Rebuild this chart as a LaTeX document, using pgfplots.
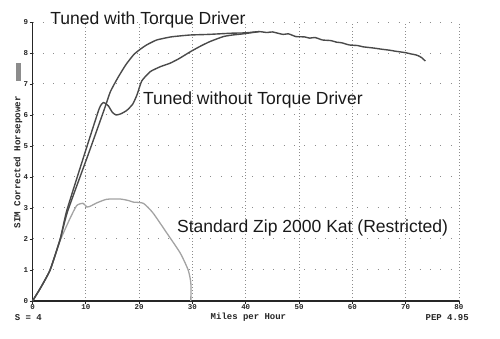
\documentclass[border=0pt]{standalone}
\usepackage{pgfplots}
\pgfplotsset{compat=1.18}
\usepackage{fontspec}
\setmainfont{Liberation Sans}
\setmonofont{Liberation Mono}
\definecolor{dk}{HTML}{4A4A4A}
\definecolor{lt}{HTML}{A3A3A3}
\definecolor{gr}{HTML}{8C8C8C}
\begin{document}
\begin{tikzpicture}[x=1bp,y=1bp]
\begin{axis}[
  scale only axis,
  width=426.5bp, height=279bp,
  xmin=0, xmax=80, ymin=0, ymax=9,
  clip=false,
  axis x line*=bottom, axis y line*=left,
  axis line style={line width=1.4pt, black!85, -},
  xtick={0,10,...,80}, ytick={0,1,...,9},
  tick style={black!85, line width=0.8pt},
  major tick length=3bp,
  tick align=outside,
  xmajorgrids, ymajorgrids,
  major x grid style={gr, line width=0.9pt, dash pattern=on 0.9pt off 2.4pt},
  major y grid style={gr, line width=1pt, dash pattern=on 1pt off 9.5pt},
  tick label style={font=\fontsize{7.5}{7.5}\ttfamily\bfseries, black!85},
  xticklabel style={yshift=3bp},
  yticklabel style={xshift=2bp},
  /pgf/number format/assume math mode=true,
]
% Standard Zip 2000 Kat (Restricted)
\addplot[lt, line width=1.3pt, smooth, tension=0.35] coordinates {
 (0,0) (1.5,0.42) (3.3,1.0) (5.2,1.95) (7,2.65) (8.3,3.08) (9.5,3.15) (10.2,3.03)
 (11,3.07) (12,3.16) (13.9,3.28) (16.4,3.29) (18,3.24) (18.9,3.19) (20.8,3.15)
 (22.6,2.84) (25.2,2.19) (27.7,1.55) (29.2,1.0) (29.7,0.58) (29.7,0)
};
% Tuned without Torque Driver
\addplot[dk, line width=1.4pt, smooth, tension=0.3] coordinates {
 (0,0) (1.5,0.42) (3.3,1.0) (5.2,2.0) (6.4,2.9) (9.5,4.6) (12.5,6.2) (13.3,6.4)
 (14.2,6.3) (15.0,6.08) (15.7,6.0) (16.6,6.04) (17.7,6.15) (18.8,6.35)
 (19.6,6.65) (20.5,7.1) (22.1,7.4) (24,7.56) (25.8,7.67) (27.5,7.82) (29.6,8.04)
 (31.5,8.22) (33.3,8.37) (35.8,8.53) (37.5,8.58) (39.6,8.62) (42.5,8.69)
};
% Tuned with Torque Driver
\addplot[dk, line width=1.4pt, smooth, tension=0.3] coordinates {
 (0,0) (1.5,0.42) (3.3,1.0) (5.2,2.0) (6.6,2.9) (10.5,4.75) (13.5,6.2) (14.6,6.75)
 (16,7.2) (17.5,7.62) (19,7.95) (20.2,8.12) (21.5,8.27) (23.3,8.42) (26,8.52)
 (29.5,8.58) (33,8.6) (37.5,8.64) (40,8.65) (42.5,8.69) (44,8.66)
 (45,8.68) (47,8.6) (48,8.62) (49.4,8.53) (51,8.52) (52,8.48) (53,8.5) (54.4,8.42)
 (56,8.4) (57,8.35) (58,8.33) (59.4,8.26) (61,8.24) (62,8.2) (64,8.16) (65.6,8.12)
 (67,8.09) (68,8.06) (70,8.01) (71,7.97) (71.9,7.94) (72.5,7.9) (73,7.85) (73.7,7.74)
};
% texts
\node[anchor=west, inner sep=0pt, font=\fontsize{17.6}{20}\selectfont, black!90] at (axis cs:3.3,9.05) {Tuned with Torque Driver};
\node[anchor=west, inner sep=0pt, font=\fontsize{17.6}{20}\selectfont, black!90] at (axis cs:20.7,6.48) {Tuned without Torque Driver};
\node[anchor=west, inner sep=0pt, font=\fontsize{17.6}{20}\selectfont, black!90] at (axis cs:27.1,2.35) {Standard Zip 2000 Kat (Restricted)};
\node[rotate=90, inner sep=0pt, font=\fontsize{9.2}{9.2}\ttfamily\bfseries, black!85] at (axis cs:-2.7,4.48) {SIM Corrected Horsepower};
\node[inner sep=0pt, minimum width=5bp, minimum height=18bp, fill=black!45] at (axis cs:-2.7,7.39) {};
\node[inner sep=0pt, font=\fontsize{9}{9}\ttfamily\bfseries, black!85] at (axis cs:40.5,-0.53) {Miles per Hour};
\node[inner sep=0pt, font=\fontsize{9}{9}\ttfamily\bfseries, black!85] at (axis cs:-0.8,-0.53) {S = 4};
\node[inner sep=0pt, font=\fontsize{9}{9}\ttfamily\bfseries, black!85] at (axis cs:77.8,-0.53) {PEP 4.95};
\coordinate (BL) at (axis cs:-6.1,-1.226);
\coordinate (TR) at (axis cs:87.7,9.71);
\end{axis}
\pgfresetboundingbox
\path (BL) rectangle (TR);
\end{tikzpicture}
\end{document}
